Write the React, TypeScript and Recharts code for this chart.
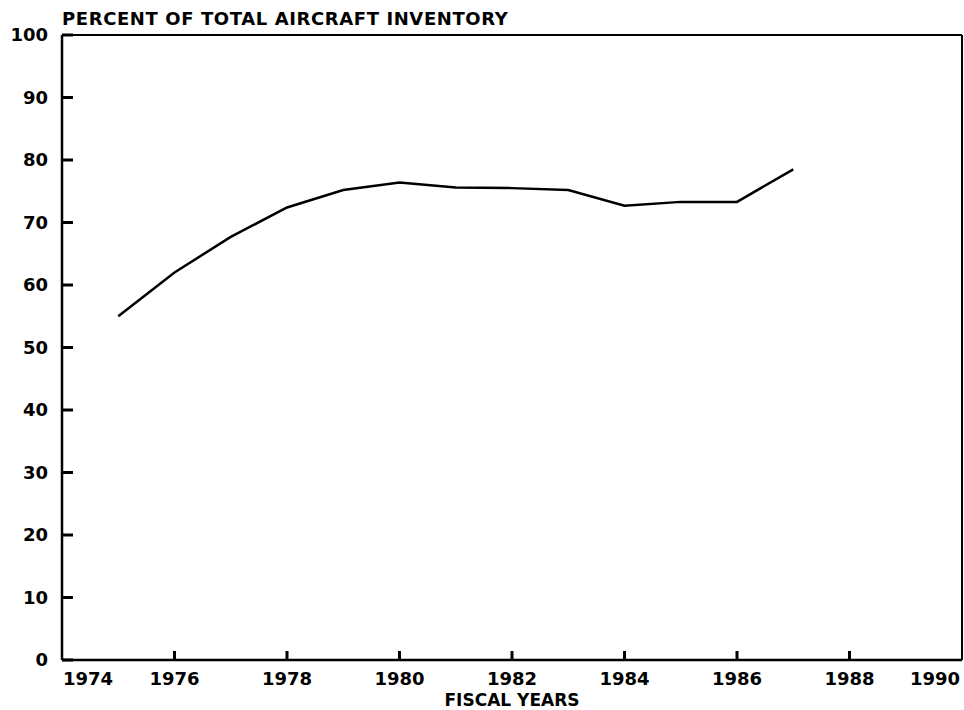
import React from 'react';
import { LineChart, Line, XAxis, YAxis, ReferenceLine, Label } from 'recharts';

const years = [1975, 1976, 1977, 1978, 1979, 1980, 1981, 1982, 1983, 1984, 1985, 1986, 1987];
const percents = [55, 62, 67.7, 72.4, 75.2, 76.4, 75.6, 75.5, 75.2, 72.7, 73.3, 73.3, 78.5];
const xTicks = [1974, 1976, 1978, 1980, 1982, 1984, 1986, 1988, 1990];
const yTicks = [0, 10, 20, 30, 40, 50, 60, 70, 80, 90, 100];
const titleText = 'PERCENT OF TOTAL AIRCRAFT INVENTORY';
const xTitle = 'FISCAL YEARS';

const data = years.map((y, i) => ({ year: y, value: percents[i] }));

const fontStyle: React.CSSProperties = {
  fontFamily: '"DejaVu Sans", sans-serif',
  fontWeight: 'bold',
  fontSize: 18,
  fill: '#000',
};

const tickStroke: React.CSSProperties = { stroke: '#000000', strokeWidth: 3, fill: 'none' };

const YTick = (props: any) => {
  const { x, y, payload } = props;
  return (
    <g>
      <path d={`M${x},${y}h11`} style={tickStroke} />
      <text x={x - 14} y={y} dy="0.36em" textAnchor="end" style={fontStyle}>
        {payload.value}
      </text>
    </g>
  );
};

const XTick = (props: any) => {
  const { x, y, payload, index } = props;
  const first = index === 0;
  const last = index === xTicks.length - 1;
  const anchor = first ? 'start' : last ? 'end' : 'middle';
  const tx = first ? x + 1 : last ? x - 2 : x;
  return (
    <g>
      {!first && !last && <path d={`M${x},${y}v-9`} style={tickStroke} />}
      <text x={tx} y={y + 25} textAnchor={anchor} style={fontStyle}>
        {payload.value}
      </text>
    </g>
  );
};

const TitleLabel = (props: any) => {
  const vb = props.viewBox || {};
  return (
    <text
      x={vb.x + vb.width}
      y={vb.y - 10}
      textAnchor="start"
      style={{ ...fontStyle, fontSize: 18, letterSpacing: 0.6 }}
    >
      {titleText}
    </text>
  );
};

const XTitleLabel = (props: any) => {
  const vb = props.viewBox || {};
  return (
    <text x={vb.x + vb.width / 2} y={vb.y + 46} textAnchor="middle" style={{ ...fontStyle, fontSize: 17 }}>
      {xTitle}
    </text>
  );
};

export default function App() {
  return (
    <div style={{ position: 'absolute', left: 0, top: 0, background: '#fff' }}>
      <LineChart
        width={964}
        height={710}
        data={data}
        margin={{ top: 35, right: 2, bottom: 0, left: 2 }}
      >
        <XAxis
          dataKey="year"
          type="number"
          domain={[1974, 1990]}
          ticks={xTicks}
          interval={0}
          height={50}
          tickSize={0}
          tickMargin={0}
          tickLine={false}
          axisLine={{ stroke: '#000', strokeWidth: 2.5 }}
          tick={<XTick />}
        >
          <Label content={<XTitleLabel />} />
        </XAxis>
        <YAxis
          type="number"
          domain={[0, 100]}
          ticks={yTicks}
          interval={0}
          width={60}
          tickSize={0}
          tickMargin={0}
          tickLine={false}
          axisLine={{ stroke: '#000', strokeWidth: 2.5 }}
          tick={<YTick />}
        >
          <Label content={<TitleLabel />} />
        </YAxis>
        <ReferenceLine y={100} stroke="#000" strokeWidth={2} />
        <ReferenceLine x={1990} stroke="#000" strokeWidth={2} />
        <Line
          type="linear"
          dataKey="value"
          stroke="#000"
          strokeWidth={2.5}
          dot={false}
          isAnimationActive={false}
        />
      </LineChart>
    </div>
  );
}
